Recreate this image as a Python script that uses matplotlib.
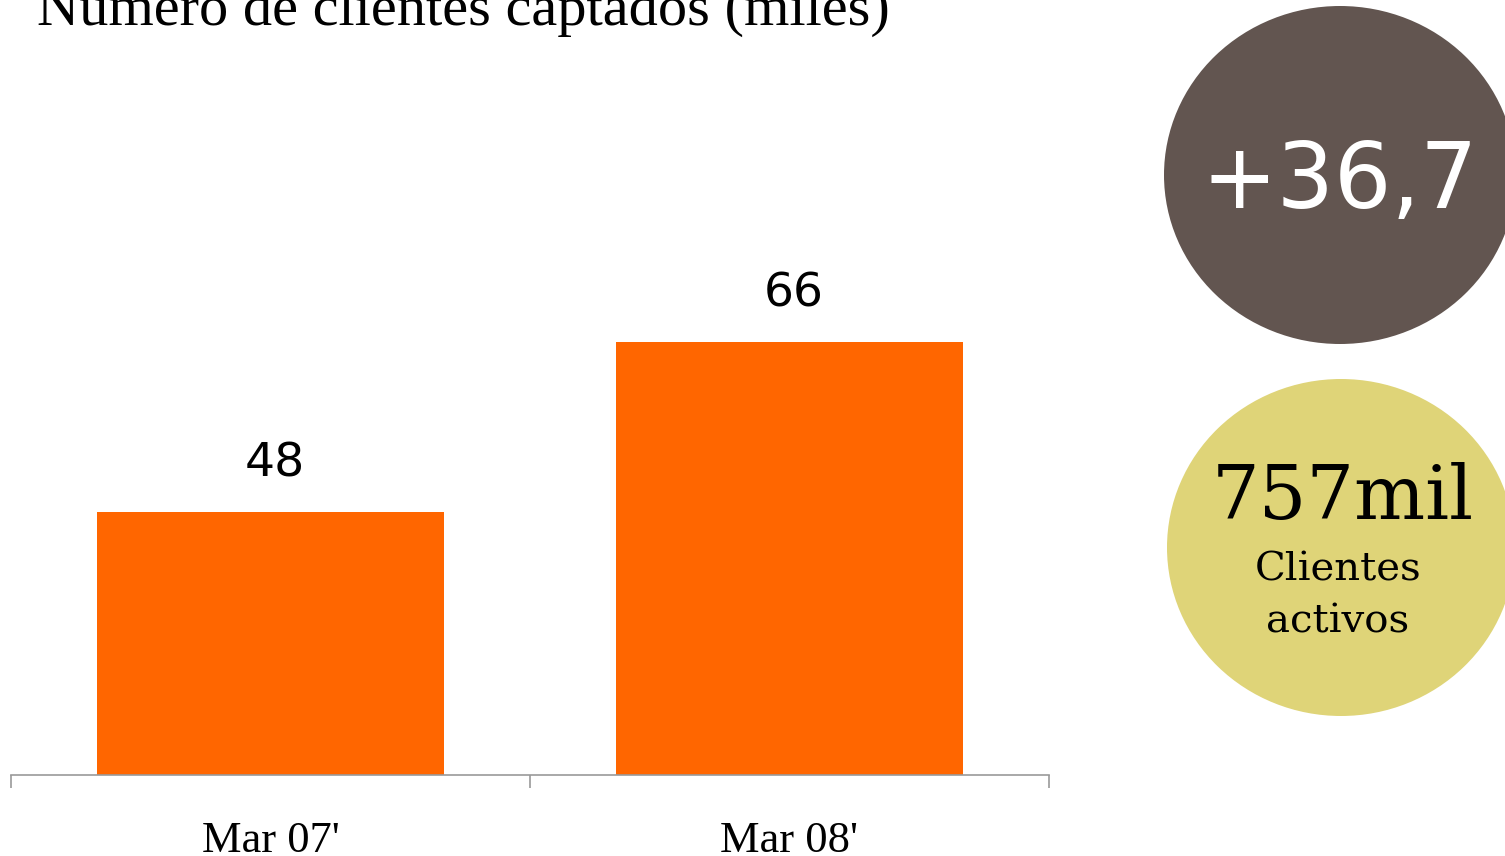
import matplotlib.pyplot as plt
from matplotlib.patches import Ellipse

categories = ["Mar 07'", "Mar 08'"]
values = [48, 66]
title = "Número de clientes captados (miles)"
growth_label = "+36,7"
active_value = "757mil"
active_label = "Clientes\nactivos"

W, H = 1505, 856
fig = plt.figure(figsize=(W / 100, H / 100), dpi=100)

# main bar axes, placed in pixel units
left, right, top, bottom = 11, 1049, 60, 775
ax = fig.add_axes([left / W, 1 - bottom / H, (right - left) / W, (bottom - top) / H])
x = range(len(categories))
ax.bar(x, values, width=0.668, color='#ff6600')
ax.set_xlim(-0.5, 1.5)
ax.set_ylim(20, 96)
for i, v in enumerate(values):
    ax.text(i + 0.008, v + 2.7, str(v), ha='center', va='bottom',
            fontsize=34, family='DejaVu Sans', color='black')

for s in ['top', 'right', 'left']:
    ax.spines[s].set_visible(False)
ax.spines['bottom'].set_color('#999999')
ax.spines['bottom'].set_linewidth(1.2)
ax.set_yticks([])
ax.set_xticks(list(x))
ax.set_xticklabels(categories, fontsize=32, family='Liberation Serif')
ax.tick_params(axis='x', which='major', length=0, pad=33)
ax.set_xticks([-0.5, 0.5, 1.5], minor=True)
ax.tick_params(axis='x', which='minor', length=9.5, width=1.2, color='#999999')

fig.text(37 / W, 1 - 25 / H, title, ha='left', va='baseline',
         fontsize=42, family='Liberation Serif', color='black')

# overlay for the circles
ov = fig.add_axes([0, 0, 1, 1])
ov.set_xlim(0, W)
ov.set_ylim(H, 0)
ov.axis('off')
ov.patch.set_alpha(0)
ov.add_patch(Ellipse((1340, 175), 352, 338, color='#625550', lw=0))
ov.add_patch(Ellipse((1341, 547.5), 348, 337, color='#dfd478', lw=0))
ov.text(1340, 183, growth_label, ha='center', va='center', fontsize=65,
        color='white', family='DejaVu Sans')
ov.text(1343, 498, active_value, ha='center', va='center', fontsize=54,
        color='black', family='DejaVu Serif')
ov.text(1338, 596, active_label, ha='center', va='center', fontsize=29,
        color='black', family='DejaVu Serif', linespacing=1.5)

fig.savefig('out.png', dpi=100)
